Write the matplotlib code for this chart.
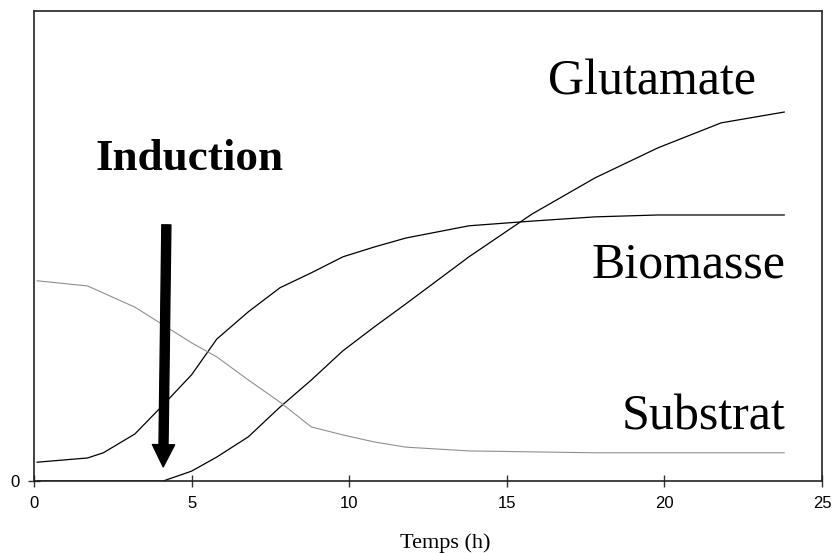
import matplotlib
matplotlib.use("Agg")
import matplotlib.pyplot as plt

# time points (h)
temps = [0.1, 1.7, 3.2, 4.1, 5.0, 5.8, 6.8, 7.8, 8.8, 9.8, 10.8, 11.8,
         13.8, 15.8, 17.8, 19.8, 21.8, 23.8]
temps_bio = [0.1, 1.7, 2.2, 3.2, 4.1, 5.0, 5.8, 6.8, 7.8, 8.8, 9.8, 10.8, 11.8,
             13.8, 15.8, 17.8, 19.8, 21.8, 23.8]

# values in arbitrary units (no scale on the original)
glutamate = [0, 0, 0, 0, 2.1, 5.1, 9.4, 15.7, 21.5, 27.7, 32.8, 37.7,
             47.7, 56.8, 64.5, 70.9, 76.2, 78.5]
biomasse = [4.0, 4.9, 6.0, 10.0, 16.2, 22.6, 30.2, 36.0, 41.1, 44.3, 47.7, 49.8,
            51.7, 54.3, 55.3, 56.2, 56.6, 56.6, 56.6]
substrat = [42.6, 41.5, 37.0, 33.2, 29.4, 26.4, 21.5, 16.8, 11.5, 9.8, 8.3, 7.2,
            6.4, 6.2, 6.0, 6.0, 6.0, 6.0]

serif = "Liberation Serif"
sans = "Liberation Sans"

fig = plt.figure(figsize=(8.37, 5.53), dpi=100)
ax = fig.add_axes([0.0406, 0.1302, 0.9415, 0.8499])

ax.plot(temps, glutamate, color="black", lw=0.9)
ax.plot(temps_bio, biomasse, color="black", lw=0.9)
ax.plot(temps, substrat, color="#909090", lw=0.8)

ax.set_xlim(0, 25)
ax.set_ylim(0, 100)
ax.set_xticks([0, 5, 10, 15, 20, 25])
ax.set_yticks([0])
ax.tick_params(direction="inout", length=9, width=1, color="#333333",
               labelsize=12, pad=6)
for lab in ax.get_xticklabels() + ax.get_yticklabels():
    lab.set_fontfamily(sans)
for s in ax.spines.values():
    s.set_color("#222222")
    s.set_linewidth(1.2)

# labels
ax.text(19.6, 82.3, "Glutamate", family=serif, fontsize=36, ha="center", va="baseline")
ax.text(23.83, 43.4, "Biomasse", family=serif, fontsize=36, ha="right", va="baseline")
ax.text(23.83, 10.9, "Substrat", family=serif, fontsize=36, ha="right", va="baseline")
ax.text(1.95, 66.2, "Induction", family=serif, fontsize=32.5, fontweight="bold",
        ha="left", va="baseline")

# induction arrow
ax.annotate("", xy=(4.1, 3.0), xytext=(4.2, 54.5),
            arrowprops=dict(arrowstyle="simple,head_width=1.6,head_length=1.6,tail_width=0.65",
                            mutation_scale=10, fc="black", ec="black",
                            shrinkA=0, shrinkB=0))

fig.text(0.532, 0.009, "Temps (h)", family=serif, fontsize=16, ha="center", va="baseline")

fig.savefig("out.png", dpi=100)
